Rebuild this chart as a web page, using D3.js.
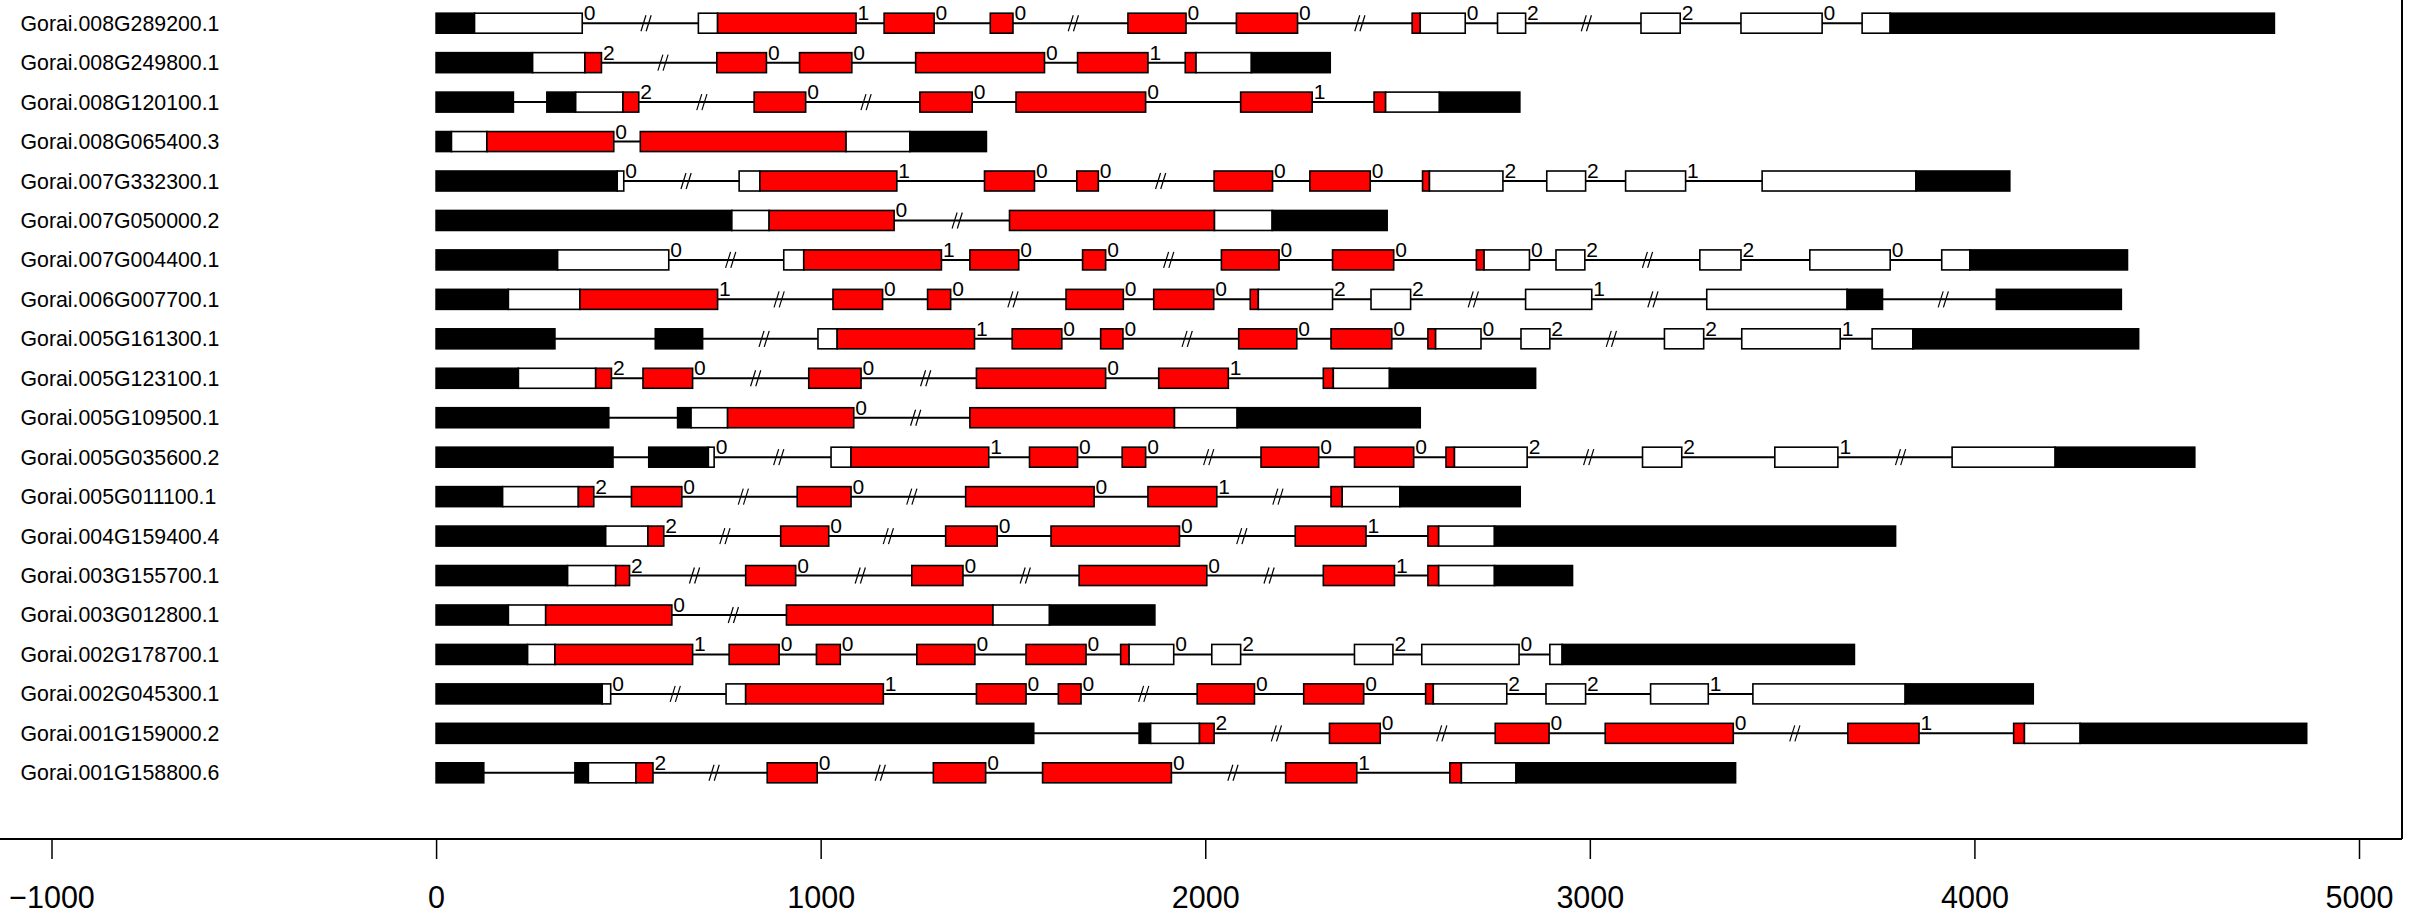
<!DOCTYPE html>
<html><head><meta charset="utf-8">
<script src="https://cdn.jsdelivr.net/npm/d3@7"></script>
<style>
html,body{margin:0;padding:0;background:#fff;}
svg{display:block;}
text{font-family:"Liberation Sans",Arial,Helvetica,sans-serif;}
</style></head>
<body>
<svg id="chart" width="2424" height="914"></svg>
<script>
// ---------- DATA ----------
const genes = ["Gorai.008G289200.1","Gorai.008G249800.1","Gorai.008G120100.1","Gorai.008G065400.3","Gorai.007G332300.1","Gorai.007G050000.2","Gorai.007G004400.1","Gorai.006G007700.1","Gorai.005G161300.1","Gorai.005G123100.1","Gorai.005G109500.1","Gorai.005G035600.2","Gorai.005G011100.1","Gorai.004G159400.4","Gorai.003G155700.1","Gorai.003G012800.1","Gorai.002G178700.1","Gorai.002G045300.1","Gorai.001G159000.2","Gorai.001G158800.6"];

// exons per gene: each exon = list of [start, end, type]; U = UTR (black), W = white, R = red
const exons = [
 [[[0,100,'U'],[100,380,'W']],[[682,732,'W'],[732,1092,'R']],[[1165,1295,'R']],[[1441,1500,'R']],[[1799,1950,'R']],[[2081,2240,'R']],[[2538,2559,'R'],[2559,2676,'W']],[[2760,2833,'W']],[[3133,3235,'W']],[[3393,3604,'W']],[[3708,3781,'W'],[3781,4780,'U']]],
 [[[0,251,'U'],[251,387,'W'],[387,430,'R']],[[730,859,'R']],[[945,1081,'R']],[[1247,1582,'R']],[[1668,1851,'R']],[[1948,1976,'R'],[1976,2120,'W'],[2120,2325,'U']]],
 [[[0,201,'U']],[[288,363,'U'],[363,486,'W'],[486,527,'R']],[[827,961,'R']],[[1258,1394,'R']],[[1508,1845,'R']],[[2092,2278,'R']],[[2439,2469,'R'],[2469,2609,'W'],[2609,2818,'U']]],
 [[[0,40,'U'],[40,132,'W'],[132,462,'R']],[[531,1066,'R'],[1066,1232,'W'],[1232,1431,'U']]],
 [[[0,471,'U'],[471,488,'W']],[[788,842,'W'],[842,1198,'R']],[[1426,1556,'R']],[[1666,1722,'R']],[[2023,2175,'R']],[[2272,2429,'R']],[[2565,2583,'R'],[2583,2774,'W']],[[2888,2989,'W']],[[3093,3249,'W']],[[3448,3848,'W'],[3848,4092,'U']]],
 [[[0,769,'U'],[769,866,'W'],[866,1191,'R']],[[1491,2024,'R'],[2024,2174,'W'],[2174,2473,'U']]],
 [[[0,316,'U'],[316,605,'W']],[[904,956,'W'],[956,1314,'R']],[[1388,1515,'R']],[[1681,1741,'R']],[[2042,2192,'R']],[[2331,2490,'R']],[[2705,2725,'R'],[2725,2843,'W']],[[2912,2987,'W']],[[3286,3393,'W']],[[3572,3781,'W']],[[3915,3988,'W'],[3988,4398,'U']]],
 [[[0,188,'U'],[188,374,'W'],[374,732,'R']],[[1032,1161,'R']],[[1278,1338,'R']],[[1638,1787,'R']],[[1866,2022,'R']],[[2117,2138,'R'],[2138,2331,'W']],[[2431,2534,'W']],[[2833,3005,'W']],[[3304,3669,'W'],[3669,3761,'U']],[[4057,4382,'U']]],
 [[[0,309,'U']],[[570,693,'U']],[[993,1043,'W'],[1043,1400,'R']],[[1498,1627,'R']],[[1728,1786,'R']],[[2087,2238,'R']],[[2327,2485,'R']],[[2579,2599,'R'],[2599,2717,'W']],[[2821,2896,'W']],[[3194,3296,'W']],[[3395,3651,'W']],[[3734,3840,'W'],[3840,4427,'U']]],
 [[[0,214,'U'],[214,415,'W'],[415,456,'R']],[[538,667,'R']],[[969,1105,'R']],[[1405,1741,'R']],[[1879,2060,'R']],[[2307,2333,'R'],[2333,2479,'W'],[2479,2859,'U']]],
 [[[0,449,'U']],[[628,663,'U'],[663,758,'W'],[758,1086,'R']],[[1388,1920,'R'],[1920,2083,'W'],[2083,2559,'U']]],
 [[[0,460,'U']],[[553,708,'U'],[708,723,'W']],[[1027,1079,'W'],[1079,1437,'R']],[[1543,1668,'R']],[[1784,1845,'R']],[[2145,2295,'R']],[[2388,2542,'R']],[[2626,2648,'R'],[2648,2837,'W']],[[3137,3239,'W']],[[3481,3645,'W']],[[3942,4210,'W'],[4210,4573,'U']]],
 [[[0,173,'U'],[173,370,'W'],[370,410,'R']],[[508,639,'R']],[[939,1079,'R']],[[1377,1711,'R']],[[1851,2030,'R']],[[2327,2356,'R'],[2356,2506,'W'],[2506,2819,'U']]],
 [[[0,441,'U'],[441,551,'W'],[551,592,'R']],[[896,1021,'R']],[[1325,1459,'R']],[[1599,1933,'R']],[[2234,2418,'R']],[[2579,2607,'R'],[2607,2752,'W'],[2752,3795,'U']]],
 [[[0,342,'U'],[342,467,'W'],[467,503,'R']],[[805,935,'R']],[[1237,1370,'R']],[[1672,2004,'R']],[[2307,2492,'R']],[[2579,2607,'R'],[2607,2752,'W'],[2752,2955,'U']]],
 [[[0,188,'U'],[188,285,'W'],[285,613,'R']],[[911,1448,'R'],[1448,1595,'W'],[1595,1869,'U']]],
 [[[0,238,'U'],[238,309,'W'],[309,667,'R']],[[762,892,'R']],[[989,1051,'R']],[[1250,1401,'R']],[[1534,1690,'R']],[[1780,1802,'R'],[1802,1918,'W']],[[2017,2092,'W']],[[2388,2488,'W']],[[2563,2816,'W']],[[2896,2928,'W'],[2928,3688,'U']]],
 [[[0,432,'U'],[432,454,'W']],[[754,805,'W'],[805,1163,'R']],[[1405,1534,'R']],[[1618,1677,'R']],[[1979,2128,'R']],[[2256,2412,'R']],[[2573,2593,'R'],[2593,2784,'W']],[[2886,2989,'W']],[[3158,3308,'W']],[[3424,3820,'W'],[3820,4153,'U']]],
 [[[0,1554,'U']],[[1828,1858,'U'],[1858,1985,'W'],[1985,2023,'R']],[[2323,2455,'R']],[[2754,2894,'R']],[[3040,3373,'R']],[[3671,3856,'R']],[[4102,4130,'R'],[4130,4275,'W'],[4275,4864,'U']]],
 [[[0,124,'U']],[[361,396,'U'],[396,520,'W'],[520,564,'R']],[[861,991,'R']],[[1293,1429,'R']],[[1577,1912,'R']],[[2209,2394,'R']],[[2636,2666,'R'],[2666,2808,'W'],[2808,3379,'U']]]
];

// intron phase shown after each exon (null = none)
const phases = [
 [0,1,0,0,0,0,0,2,2,0],
 [2,0,0,0,1],
 [null,2,0,0,0,1],
 [0],
 [0,1,0,0,0,0,2,2,1],
 [0],
 [0,1,0,0,0,0,0,2,2,0],
 [1,0,0,0,0,2,2,1,null],
 [null,null,1,0,0,0,0,0,2,2,1],
 [2,0,0,0,1],
 [null,0],
 [null,0,1,0,0,0,0,2,2,1],
 [2,0,0,0,1],
 [2,0,0,0,1],
 [2,0,0,0,1],
 [0],
 [1,0,0,0,0,0,2,2,0],
 [0,1,0,0,0,0,2,2,1],
 [null,2,0,0,0,1],
 [null,2,0,0,0,1]
];

// positions of intron break marks "//"
const breaks = [
 [546,1657,2402,2991],
 [590],
 [691,1118],
 [],
 [650,1884],
 [1355],
 [766,1905,3150],
 [892,1500,2697,3164,3919],
 [853,1953,3056],
 [831,1273],
 [1247],
 [891,2009,2997,3808],
 [799,1237,2189],
 [751,1176,2095],
 [672,1103,1532,2166],
 [773],
 [],
 [622,1840],
 [2185,2615,3533],
 [723,1155,2072]
];

const xTicks = [-1000,0,1000,2000,3000,4000,5000];
const fillColors = {U:"#000000", W:"#ffffff", R:"#ff0000"};

// ---------- DRAW ----------
const svg = d3.select("#chart");
const x = d3.scaleLinear().domain([-1000,5000]).range([51.5,2359]);
const y = d3.scalePoint().domain(genes).range([23.2, 772.8]);
const boxH = 20;

// frame: bottom axis line and right border
svg.append("line").attr("x1",0).attr("x2",2402).attr("y1",839).attr("y2",839)
  .attr("stroke","#000").attr("stroke-width",2.2);
svg.append("line").attr("x1",2402).attr("x2",2402).attr("y1",0).attr("y2",839)
  .attr("stroke","#000").attr("stroke-width",2);

// axis
const axis = d3.axisBottom(x).tickValues(xTicks).tickSize(20).tickSizeOuter(0)
  .tickFormat(d => d < 0 ? "\u2212" + Math.abs(d) : String(d));
const gAx = svg.append("g").attr("transform","translate(0,839)").call(axis);
gAx.select(".domain").remove();
gAx.selectAll(".tick line").attr("stroke","#000").attr("stroke-width",1.5);
gAx.selectAll(".tick text").attr("y",69).attr("dy",null)
  .attr("font-size",30.5).attr("fill","#000")
  .style("font-family","'Liberation Sans',Arial,sans-serif");

// gene rows
genes.forEach((g,i) => {
  const cy = y(g);
  const row = svg.append("g");
  const ex = exons[i];
  const gStart = ex[0][0][0];
  const lastEx = ex[ex.length-1];
  const gEnd = lastEx[lastEx.length-1][1];

  row.append("text").attr("x",20.5).attr("y",cy+7.5).attr("font-size",21.3).attr("fill","#000").text(g);

  // intron line
  row.append("line").attr("x1",x(gStart)).attr("x2",x(gEnd)).attr("y1",cy).attr("y2",cy)
    .attr("stroke","#000").attr("stroke-width",2);

  // break marks
  breaks[i].forEach(b => {
    const bx = x(b);
    [-2.6, 2.6].forEach(o => {
      row.append("line")
        .attr("x1",bx+o-2.5).attr("y1",cy+8)
        .attr("x2",bx+o+2.5).attr("y2",cy-8)
        .attr("stroke","#000").attr("stroke-width",1.2);
    });
  });

  // exons
  ex.forEach((segs,j) => {
    segs.forEach(s => {
      row.append("rect")
        .attr("x",x(s[0])).attr("y",cy-boxH/2)
        .attr("width",Math.max(0.5,x(s[1])-x(s[0]))).attr("height",boxH)
        .attr("fill",fillColors[s[2]]).attr("stroke","#000").attr("stroke-width",1.6);
    });
    const ph = phases[i][j];
    if (ph !== null && ph !== undefined) {
      const end = segs[segs.length-1][1];
      row.append("text").attr("x",x(end)+1.5).attr("y",cy-boxH/2+7)
        .attr("font-size",21).attr("fill","#000").text(ph);
    }
  });
});
</script>
</body></html>
